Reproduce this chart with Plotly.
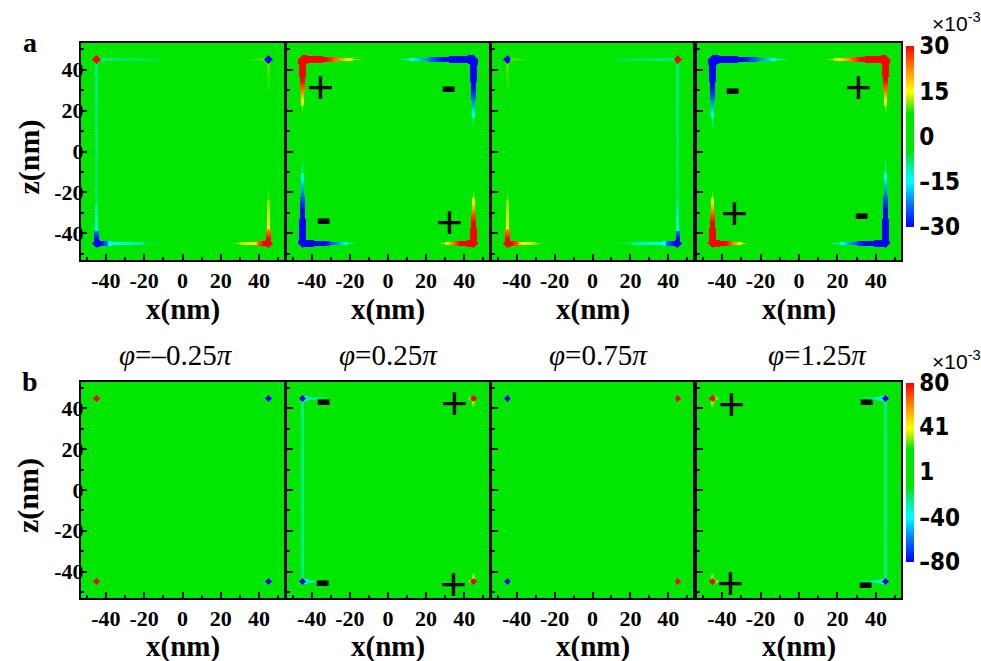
import numpy as np
import plotly.graph_objects as go

# ---------------- data (field values in units of 1e-3) ----------------
titles = ["<i>φ</i>=–0.25<i>π</i>", "<i>φ</i>=0.25<i>π</i>", "<i>φ</i>=0.75<i>π</i>", "<i>φ</i>=1.25<i>π</i>"]
x_tick_vals = [-40, -20, 0, 20, 40]
x_tick_text = ["-40", "-20", "0", "20", "40"]
minor_tick_vals = [-50, -30, -10, 10, 30, 50]
cb_a_vals = [30, 15, 0, -15, -30]
cb_a_text = ["30", "15", "0", "–15", "–30"]
cb_b_vals = [80, 41, 1, -40, -80]
cb_b_text = ["80", "41", "1", "–40", "–80"]
range_a = [-30, 30]
range_b = [-80, 80]

# dots: [x, z, value]
a1_dots = [[-45, 45, 30], [45, 45, -30], [-45, -45, -30], [45, -45, 30]]
a2_dots = [[-45, 45, 30], [45, 45, -30], [-45, -45, -30], [45, -45, 30]]
a3_dots = [[45, 45, 30], [-45, 45, -30], [45, -45, -30], [-45, -45, 30]]
a4_dots = [[45, 45, 30], [-45, 45, -30], [45, -45, -30], [-45, -45, 30]]
b1_dots = [[-45, 45, 80], [45, 45, -80], [-45, -45, 80], [45, -45, -80]]
b2_dots = [[-45, 45, -80], [45, 45, 80], [-45, -45, -80], [45, -45, 80]]
b3_dots = [[-45, 45, -80], [45, 45, 80], [-45, -45, -80], [45, -45, 80]]
b4_dots = [[-45, 45, 80], [45, 45, -80], [-45, -45, 80], [45, -45, -80]]

# tails: [x0, z0, x1, z1, v0, v1, halfwidth0, halfwidth1]
a1_tails = [[-44, 45, -12, 45, -9, -6, 0.5, 0.3],
            [-45, 44, -45, -38, -9, -7, 0.45, 0.45],
            [44, 45, 26, 45, 10, 6, 0.5, 0.2],
            [45, 44, 45, 15, 10, 6, 0.45, 0.2],
            [-45, -45, -39, -45, -34, -22, 1.4, 0.9],
            [-45, -45, -45, -39, -34, -22, 1.3, 0.8],
            [-45, -45, -12, -45, -18, -6, 1.0, 0.0],
            [-45, -45, -45, -18, -16, -6, 0.9, 0.0],
            [45, -45, 39, -45, 34, 24, 1.4, 0.9],
            [45, -45, 45, -38, 34, 22, 1.3, 0.8],
            [45, -45, 24, -45, 22, 7, 1.0, 0.0],
            [45, -45, 45, -14, 18, 7, 0.8, 0.0]]
a2_tails = [[-45, 45, -14, 45, 45, 8, 1.9, 0.0],
            [-45, 45, -45, 19, 45, 8, 1.9, 0.0],
            [45, 45, 6, 45, -45, -8, 1.9, 0.0],
            [45, 45, 45, 12, -45, -8, 1.9, 0.0],
            [-45, -45, -45, -5, -45, -8, 1.8, 0.0],
            [-45, -45, -17, -45, -45, -8, 1.6, 0.0],
            [45, -45, 27, -45, 45, 8, 1.6, 0.0],
            [45, -45, 45, -19, 45, 8, 1.8, 0.0]]
a3_tails = [[44, 45, 12, 45, -9, -6, 0.5, 0.3],
            [45, 44, 45, -38, -9, -7, 0.45, 0.45],
            [-44, 45, -26, 45, 10, 6, 0.5, 0.2],
            [-45, 44, -45, 15, 10, 6, 0.45, 0.2],
            [45, -45, 39, -45, -34, -22, 1.4, 0.9],
            [45, -45, 45, -39, -34, -22, 1.3, 0.8],
            [45, -45, 12, -45, -18, -6, 1.0, 0.0],
            [45, -45, 45, -18, -16, -6, 0.9, 0.0],
            [-45, -45, -39, -45, 34, 24, 1.4, 0.9],
            [-45, -45, -45, -38, 34, 22, 1.3, 0.8],
            [-45, -45, -24, -45, 22, 7, 1.0, 0.0],
            [-45, -45, -45, -14, 18, 7, 0.8, 0.0]]
a4_tails = [[45, 45, 14, 45, 45, 8, 1.9, 0.0],
            [45, 45, 45, 19, 45, 8, 1.9, 0.0],
            [-45, 45, -6, 45, -45, -8, 1.9, 0.0],
            [-45, 45, -45, 12, -45, -8, 1.9, 0.0],
            [45, -45, 45, -5, -45, -8, 1.8, 0.0],
            [45, -45, 17, -45, -45, -8, 1.6, 0.0],
            [-45, -45, -27, -45, 45, 8, 1.6, 0.0],
            [-45, -45, -45, -19, 45, 8, 1.8, 0.0]]
b1_tails = []
b2_tails = [[-45, 45, -45, -45, -24, -24, 0.6, 0.6],
            [-45, 45, -27, 45, -34, -8, 0.9, 0.0],
            [-45, -45, -27, -45, -34, -8, 0.9, 0.0],
            [45, 45, 40, 45, 40, 16, 0.8, 0.0],
            [45, 45, 45, 39, 40, 16, 0.8, 0.0],
            [45, -45, 40, -45, 40, 16, 0.8, 0.0],
            [45, -45, 45, -39, 40, 16, 0.8, 0.0]]
b3_tails = []
b4_tails = [[45, 45, 45, -45, -24, -24, 0.6, 0.6],
            [45, 45, 27, 45, -34, -8, 0.9, 0.0],
            [45, -45, 27, -45, -34, -8, 0.9, 0.0],
            [-45, 45, -40, 45, 40, 16, 0.8, 0.0],
            [-45, 45, -45, 39, 40, 16, 0.8, 0.0],
            [-45, -45, -40, -45, 40, 16, 0.8, 0.0],
            [-45, -45, -45, -39, 40, 16, 0.8, 0.0]]

# sign labels: [x, z, text]
a2_signs = [[-35.2, 31.7, "+"], [31.6, 30.4, "-"], [-34, -33.8, "-"], [32.2, -34.3, "+"]]
a4_signs = [[-34.7, 29.6, "-"], [30.8, 31.4, "+"], [-33.6, -30.2, "+"], [32.5, -31.5, "-"]]
b2_signs = [[-34, 43, "-"], [35.1, 42.5, "+"], [-34.5, -45.8, "-"], [34.3, -46.3, "+"]]
b4_signs = [[-35.3, 42.2, "+"], [35.2, 43, "-"], [-35.8, -45.8, "+"], [34.4, -46.4, "-"]]

# ---------------- build fields ----------------
grid = np.arange(-53, 53.001, 0.5)
X, Z = np.meshgrid(grid, grid)


def field(dots, tails, r):
    F = np.zeros_like(X)
    for x0, z0, x1, z1, v0, v1, w0, w1 in tails:
        dx, dz = x1 - x0, z1 - z0
        L2 = dx * dx + dz * dz
        t = ((X - x0) * dx + (Z - z0) * dz) / L2
        d = np.hypot(X - (x0 + t * dx), Z - (z0 + t * dz))
        w = w0 + (w1 - w0) * t + 0.25
        v = v0 + (v1 - v0) * t
        m = (t >= 0) & (t <= 1) & (d <= w) & (np.abs(v) >= np.abs(F))
        F[m] = v[m]
    for x, z, v in dots:
        m = (np.abs(X - x) + np.abs(Z - z)) <= r
        F[m] = v
    return F


W, H = 981, 661
xdom_px = [(81, 284), (287, 489), (492, 693), (697, 901)]
ydom_px = [(43, 260), (382, 598)]
DOT_R = [2.2, 1.7]

panels = [
    (a1_dots, a1_tails, None), (a2_dots, a2_tails, a2_signs),
    (a3_dots, a3_tails, None), (a4_dots, a4_tails, a4_signs),
    (b1_dots, b1_tails, None), (b2_dots, b2_tails, b2_signs),
    (b3_dots, b3_tails, None), (b4_dots, b4_tails, b4_signs),
]

colorscale = [
    [0.0, "rgb(0,0,255)"],
    [0.12, "rgb(0,110,255)"],
    [0.25, "rgb(0,255,255)"],
    [0.33, "rgb(0,240,170)"],
    [0.42, "rgb(0,230,0)"],
    [0.63, "rgb(0,230,0)"],
    [0.69, "rgb(150,235,0)"],
    [0.75, "rgb(255,255,0)"],
    [0.87, "rgb(255,140,0)"],
    [1.0, "rgb(255,0,0)"],
]

fig = go.Figure()
serif = "Liberation Serif, Times New Roman, serif"
sans = "Liberation Sans, Arial, sans-serif"
annotations = []
layout = {}

for k, (dots, tails, signs) in enumerate(panels):
    row, col = divmod(k, 4)
    idx = k + 1
    xa = "x" if idx == 1 else f"x{idx}"
    ya = "y" if idx == 1 else f"y{idx}"
    F = field(dots, tails, DOT_R[row])
    fig.add_trace(go.Heatmap(x=grid, y=grid, z=F, xaxis=xa, yaxis=ya,
                             coloraxis="coloraxis" if row == 0 else "coloraxis2",
                             zsmooth=False, hoverinfo="skip"))
    x0, x1 = xdom_px[col]
    y0, y1 = ydom_px[row]
    common = dict(range=[-53, 53], ticks="inside", ticklen=6, tickwidth=1.5, tickcolor="black",
                  showline=True, mirror=True, linewidth=2, linecolor="black",
                  showgrid=False, zeroline=False,
                  tickmode="array", tickvals=x_tick_vals, ticktext=x_tick_text,
                  minor=dict(tickmode="array", tickvals=minor_tick_vals, ticks="inside",
                             ticklen=3, tickwidth=1.5, tickcolor="black", showgrid=False),
                  tickfont=dict(family=serif, size=22, color="black", weight="bold"))
    layout["xaxis" if idx == 1 else f"xaxis{idx}"] = dict(
        common, domain=[x0 / W, x1 / W], anchor=ya, ticklabelstandoff=0)
    layout["yaxis" if idx == 1 else f"yaxis{idx}"] = dict(
        common, domain=[1 - y1 / H, 1 - y0 / H], anchor=xa, showticklabels=(col == 0),
        ticklabelstandoff=-9)
    # x axis title
    annotations.append(dict(text="<b>x(nm)</b>", x=(x0 + x1) / 2 / W, y=1 - (309 if row == 0 else 646) / H,
                            xref="paper", yref="paper", showarrow=False,
                            font=dict(family=serif, size=29, color="black"), xanchor="center", yanchor="middle"))
    if col == 0:
        annotations.append(dict(text="<b>z(nm)</b>", x=28 / W, y=1 - ((y0 + y1) / 2 + 6) / H,
                                xref="paper", yref="paper", showarrow=False, textangle=-90,
                                font=dict(family=serif, size=30, color="black"),
                                xanchor="center", yanchor="middle"))
    if signs:
        for sx, sz, st in signs:
            if st == "+":
                f = dict(family=sans, size=46, color="black")
                ys = 0
            else:
                f = dict(family=sans, size=46, color="black", weight="bold")
                ys = 4
            annotations.append(dict(text=st, x=sx, y=sz, xref=xa, yref=ya, showarrow=False,
                                    font=f, xanchor="center", yanchor="middle", yshift=ys))

# phi titles
title_x = [176, 388, 598, 817]
for tx, tt in zip(title_x, titles):
    annotations.append(dict(text=tt, x=tx / W, y=1 - 355 / H, xref="paper", yref="paper",
                            showarrow=False, font=dict(family=serif, size=29, color="black"),
                            xanchor="center", yanchor="middle"))

# panel letters
for lt, ly in [("a", 43), ("b", 381)]:
    annotations.append(dict(text=f"<b>{lt}</b>", x=30 / W, y=1 - ly / H, xref="paper", yref="paper",
                            showarrow=False, font=dict(family=serif, size=28, color="black"),
                            xanchor="center", yanchor="middle"))

# exponent labels
for ey in [22, 360]:
    annotations.append(dict(text="×10<sup>-3</sup>", x=930 / W, y=1 - ey / H, xref="paper", yref="paper",
                            showarrow=False, font=dict(family=sans, size=21, color="black"),
                            xanchor="left", yanchor="middle"))

cbfont = dict(family="Liberation Sans Narrow, DejaVu Sans Condensed, Roboto Condensed, Liberation Sans, sans-serif",
              size=24, color="black", weight="bold")


def cbar(top, bot, vals, text):
    return dict(x=906 / W, xanchor="left", y=1 - (top + bot) / 2 / H, yanchor="middle",
                len=(bot - top) / H, lenmode="fraction", thickness=8, thicknessmode="pixels",
                outlinewidth=0, xpad=0, ypad=0, tickmode="array", tickvals=vals, ticktext=text,
                ticks="", tickfont=cbfont)


fig.update_layout(
    width=W, height=H, margin=dict(l=0, r=0, t=0, b=0), autosize=False,
    paper_bgcolor="white", plot_bgcolor="white", showlegend=False,
    coloraxis=dict(cmin=range_a[0], cmax=range_a[1], colorscale=colorscale,
                   colorbar=cbar(46, 227, cb_a_vals, cb_a_text)),
    coloraxis2=dict(cmin=range_b[0], cmax=range_b[1], colorscale=colorscale,
                    colorbar=cbar(383, 562, cb_b_vals, cb_b_text)),
    annotations=annotations,
    **layout,
)

fig.write_html("out.html")
